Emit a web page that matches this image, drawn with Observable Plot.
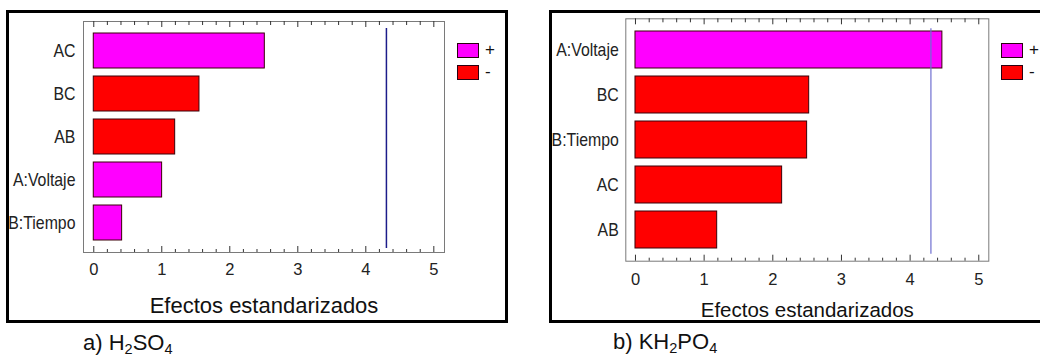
<!DOCTYPE html>
<html>
<head>
<meta charset="utf-8">
<script src="https://cdn.jsdelivr.net/npm/d3@7"></script>
<script src="https://cdn.jsdelivr.net/npm/@observablehq/plot@0.6"></script>
<style>
  html, body { margin: 0; padding: 0; background: #fff; }
  #page { position: relative; width: 1040px; height: 358px; overflow: hidden; background: #fff; }
  .box { position: absolute; top: 10px; height: 313px; border: 3px solid #000; box-sizing: border-box; }
  .panel { position: absolute; top: 0; width: 520px; height: 330px; }
  .panel svg { display: block; max-width: none !important; overflow: visible; }
  .leg { position: absolute; width: 36px; }
  .caption { position: absolute; font: 22px 'Liberation Sans', Arial, sans-serif; color: #111; line-height: 22px; white-space: nowrap; }
  .caption sub { font-size: 0.66em; line-height: 0; vertical-align: -0.28em; }
  .fx-legend-swatches { margin: 0 !important; }
  .fx-legend-swatch { margin: 0 0 6.3px 0 !important; padding: 0 !important; height: 16px; line-height: 16px; color: #111; overflow: visible !important; }
  .fx-legend-swatch svg { border: 1px solid #2b0010; margin-right: 6px !important; flex-shrink: 0; }
  .fx-legend-swatch span, .fx-legend-swatch div { overflow: visible !important; text-overflow: clip !important; }
</style>
</head>
<body>
<div id="page">
  <div class="box" style="left:6px; width:502px;"></div>
  <div class="box" style="left:549px; width:520px;"></div>
  <div class="panel" id="acid" style="left:0;"></div>
  <div class="panel" id="phos" style="left:520px;"></div>
  <div class="leg" id="acidLegend" style="left:457px; top:42px;"></div>
  <div class="leg" id="phosLegend" style="left:1001px; top:42px;"></div>
  <div class="caption" style="left:83px; top:332px;">a) H<sub>2</sub>SO<sub>4</sub></div>
  <div class="caption" style="left:613px; top:331px;">b) KH<sub>2</sub>PO<sub>4</sub></div>
</div>
<script>
// Standardized effects, H2SO4 electrolyte
const acidFactors = ["AC", "BC", "AB", "A:Voltaje", "B:Tiempo"];
const acidEffects = [2.515, 1.554, 1.197, 1.005, 0.417];
const acidSigns = ["+", "-", "-", "+", "+"];

// Standardized effects, KH2PO4 electrolyte
const phosFactors = ["A:Voltaje", "BC", "B:Tiempo", "AC", "AB"];
const phosEffects = [4.47, 2.53, 2.50, 2.136, 1.19];
const phosSigns = ["+", "-", "-", "-", "-"];

const axisTicks = [0, 1, 2, 3, 4, 5];
const signLevels = ["+", "-"];
const signColors = ["#ff00ff", "#ff0000"];
const criticalT = 4.303; // significance threshold (alpha = 0.05)
const xLabel = "Efectos estandarizados";

const REGULAR = "'Liberation Sans', Arial, sans-serif";

function paretoPanel(factors, effects, signs, o) {
  const rows = factors.map((f, i) => ({factor: f, effect: effects[i], sign: signs[i]}));
  const innerH = o.height - o.mt - o.mb;
  const minor = d3.range(0, 5.001, 0.2).filter(v => Math.abs(v - Math.round(v)) > 1e-6);
  const svg = Plot.plot({
    width: o.width,
    height: o.height,
    marginTop: o.mt,
    marginBottom: o.mb,
    marginLeft: o.ml,
    marginRight: o.mr,
    style: {background: "transparent", fontFamily: REGULAR, fontSize: "16px", color: "#222"},
    x: {domain: o.xDomain, label: null},
    y: {domain: factors, paddingInner: o.pi, paddingOuter: o.po, label: null},
    color: {domain: signLevels, range: signColors},
    marks: [
      Plot.frame({stroke: "#7a7a7a"}),
      Plot.barX(rows, {x: "effect", y: "factor", fill: "sign", stroke: "#3a0008", strokeWidth: 1}),
      Plot.ruleX([criticalT], {stroke: o.ruleColor, strokeWidth: o.ruleWidth, insetTop: o.ruleTop, insetBottom: o.ruleBottom}),
      // inward tick marks along the bottom and top edges
      Plot.tickX(axisTicks, {x: d => d, stroke: "#333", insetTop: innerH - 6}),
      Plot.tickX(minor, {x: d => d, stroke: "#333", insetTop: innerH - 3}),
      Plot.tickX(axisTicks, {x: d => d, stroke: "#333", insetBottom: innerH - 6}),
      Plot.tickX(minor, {x: d => d, stroke: "#333", insetBottom: innerH - 4}),
      Plot.axisX(axisTicks, {anchor: "bottom", tickSize: 0, tickPadding: o.tickPad, fontSize: o.tickFont, label: null}),
      Plot.axisY({anchor: "left", tickSize: 0, tickPadding: o.yPad, fontSize: o.yFont, label: null}),
      Plot.text([xLabel], {frameAnchor: "bottom", dy: o.titleDy, lineAnchor: "bottom", fontSize: o.titleFont, fill: "#111"})
    ]
  });
  // narrow the factor labels horizontally, anchored at their right edge
  const labels = svg.querySelector('[aria-label^="y-axis tick label"]');
  if (labels) {
    const X = o.ml - o.yPad;
    const wrap = document.createElementNS("http://www.w3.org/2000/svg", "g");
    wrap.setAttribute("transform", `translate(${X},0) scale(${o.yScaleX},1) translate(${-X},0)`);
    labels.parentNode.insertBefore(wrap, labels);
    wrap.appendChild(labels);
  }
  return svg;
}

function signLegend() {
  return Plot.legend({
    color: {domain: signLevels, range: signColors},
    legend: "swatches",
    columns: 1,
    swatchWidth: 20,
    swatchHeight: 13,
    className: "fx-legend",
    style: {fontSize: "17px", fontFamily: REGULAR}
  });
}

document.getElementById("acid").append(paretoPanel(acidFactors, acidEffects, acidSigns, {
  width: 520, height: 330, mt: 21, mb: 78, ml: 83, mr: 76,
  xDomain: [-0.151, 5.157], pi: 0.19, po: 0.23,
  ruleColor: "#1c1c8a", ruleWidth: 1.5, ruleTop: 7, ruleBottom: 4,
  tickPad: 11, tickFont: 16.5, yPad: 8, yFont: 18, yScaleX: 0.88, titleDy: 60, titleFont: 22
}));

document.getElementById("phos").append(paretoPanel(phosFactors, phosEffects, phosSigns, {
  width: 520, height: 330, mt: 18.3, mb: 69.3, ml: 105.3, mr: 51.7,
  xDomain: [-0.141, 5.146], pi: 0.17, po: 0.26,
  ruleColor: "#6f6fd0", ruleWidth: 1.2, ruleTop: 10, ruleBottom: 7,
  tickPad: 12, tickFont: 16.5, yPad: 7, yFont: 18, yScaleX: 0.88, titleDy: 56, titleFont: 20.5
}));

document.getElementById("acidLegend").append(signLegend());
document.getElementById("phosLegend").append(signLegend());
</script>
</body>
</html>
